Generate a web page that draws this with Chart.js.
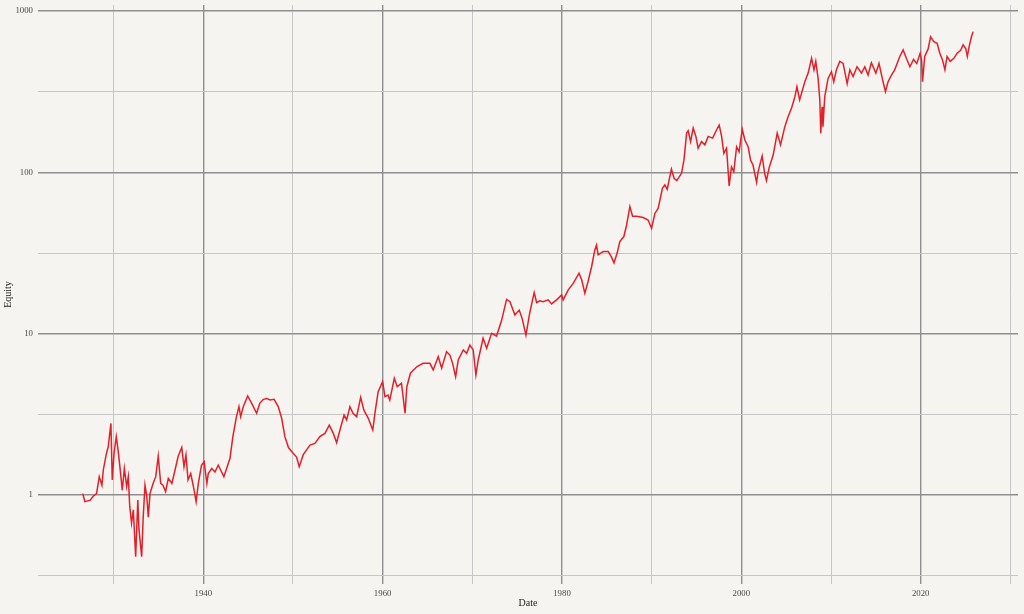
<!DOCTYPE html>
<html>
<head>
<meta charset="utf-8">
<script src="https://cdn.jsdelivr.net/npm/chart.js@4.4.1/dist/chart.umd.min.js"></script>
<style>
  html, body { margin: 0; padding: 0; background: #f6f4f0; }
  canvas { display: block; }
</style>
</head>
<body>
<canvas id="myChart" width="1024" height="614"></canvas>
<script>
'use strict'
// equity curve (decimal year / value)
let years = [
  1926.56, 1926.8, 1927.4, 1927.7, 1928.1, 1928.4, 1928.7, 1928.85, 1929.2, 1929.4,
  1929.7, 1929.85, 1930.05, 1930.3, 1930.5, 1930.7, 1930.97, 1931.2, 1931.46, 1931.64,
  1931.8, 1932.0, 1932.2, 1932.46, 1932.7, 1932.83, 1933.13, 1933.3, 1933.5, 1933.7,
  1933.87, 1934.06, 1934.4, 1934.7, 1934.98, 1935.25, 1935.5, 1935.8, 1936.1, 1936.5,
  1936.85, 1937.2, 1937.6, 1937.85, 1938.07, 1938.3, 1938.6, 1938.9, 1939.2, 1939.45,
  1939.8, 1940.1, 1940.4, 1940.56, 1940.94, 1941.3, 1941.67, 1942.05, 1942.3, 1942.6,
  1942.98, 1943.3, 1943.7, 1943.98, 1944.17, 1944.46, 1944.95, 1945.4, 1945.95, 1946.3,
  1946.7, 1947.07, 1947.44, 1947.9, 1948.36, 1948.74, 1949.1, 1949.5, 1949.9, 1950.4,
  1950.7, 1951.15, 1951.5, 1951.9, 1952.45, 1953.0, 1953.57, 1954.05, 1954.5, 1954.87,
  1955.24, 1955.7, 1955.99, 1956.35, 1956.7, 1957.1, 1957.55, 1957.9, 1958.4, 1958.9,
  1959.14, 1959.5, 1960.0, 1960.26, 1960.6, 1960.8, 1961.3, 1961.63, 1962.1, 1962.5,
  1962.7, 1963.1, 1963.8, 1964.5, 1965.27, 1965.64, 1966.2, 1966.58, 1967.13, 1967.5,
  1967.8, 1968.14, 1968.43, 1968.99, 1969.37, 1969.73, 1970.1, 1970.4, 1970.66, 1971.2,
  1971.6, 1972.15, 1972.7, 1973.27, 1973.82, 1974.2, 1974.75, 1975.23, 1975.56, 1975.98,
  1976.4, 1976.9, 1977.17, 1977.54, 1977.9, 1978.46, 1978.84, 1979.4, 1979.96, 1980.13,
  1980.7, 1981.25, 1981.9, 1982.2, 1982.55, 1982.9, 1983.3, 1983.66, 1983.85, 1984.03,
  1984.6, 1985.15, 1985.5, 1985.8, 1986.15, 1986.45, 1986.9, 1987.2, 1987.57, 1987.87,
  1988.3, 1989.05, 1989.6, 1989.99, 1990.36, 1990.72, 1991.2, 1991.47, 1991.73, 1991.95,
  1992.2, 1992.5, 1992.8, 1993.33, 1993.6, 1993.9, 1994.07, 1994.34, 1994.63, 1994.93,
  1995.18, 1995.56, 1995.93, 1996.3, 1996.8, 1997.23, 1997.53, 1997.8, 1998.05, 1998.35,
  1998.64, 1998.9, 1999.16, 1999.47, 1999.75, 2000.1, 2000.4, 2000.76, 2001.03, 2001.3,
  2001.7, 2001.87, 2002.32, 2002.6, 2002.8, 2003.1, 2003.55, 2004.0, 2004.37, 2004.85,
  2005.2, 2005.6, 2005.97, 2006.2, 2006.5, 2007.08, 2007.45, 2007.83, 2008.1, 2008.3,
  2008.56, 2008.75, 2008.86, 2009.0, 2009.1, 2009.3, 2009.67, 2010.05, 2010.3, 2010.6,
  2010.98, 2011.35, 2011.8, 2012.1, 2012.46, 2012.9, 2013.4, 2013.77, 2014.13, 2014.5,
  2015.0, 2015.35, 2015.8, 2016.07, 2016.36, 2016.74, 2017.1, 2017.67, 2018.04, 2018.4,
  2018.8, 2019.2, 2019.56, 2019.94, 2020.1, 2020.2, 2020.45, 2020.83, 2021.1, 2021.46,
  2021.83, 2022.13, 2022.43, 2022.7, 2022.94, 2023.3, 2023.7, 2024.06, 2024.44, 2024.73,
  2025.03, 2025.2, 2025.4, 2025.66, 2025.84
];
let equity = [
  1.02, 0.91, 0.93, 0.98, 1.02, 1.30, 1.15, 1.43, 1.81, 1.99,
  2.78, 1.24, 1.81, 2.30, 1.90, 1.50, 1.07, 1.46, 1.13, 1.30,
  0.85, 0.67, 0.81, 0.415, 0.93, 0.61, 0.415, 0.73, 1.15, 0.98,
  0.73, 1.02, 1.18, 1.30, 1.74, 1.18, 1.15, 1.05, 1.27, 1.18,
  1.43, 1.74, 1.97, 1.50, 1.77, 1.24, 1.36, 1.13, 0.91, 1.18,
  1.53, 1.61, 1.18, 1.36, 1.46, 1.39, 1.53, 1.39, 1.30, 1.46,
  1.69, 2.30, 3.06, 3.53, 3.06, 3.53, 4.11, 3.70, 3.21, 3.70,
  3.92, 3.97, 3.88, 3.92, 3.53, 2.99, 2.30, 1.97, 1.85, 1.72,
  1.50, 1.78, 1.90, 2.04, 2.09, 2.30, 2.41, 2.71, 2.41, 2.11,
  2.53, 3.13, 2.92, 3.53, 3.21, 3.06, 4.03, 3.37, 2.99, 2.53,
  3.21, 4.37, 5.04, 4.07, 4.16, 3.88, 5.29, 4.69, 4.93, 3.21,
  4.69, 5.69, 6.24, 6.55, 6.55, 5.96, 7.20, 6.11, 7.74, 7.37,
  6.55, 5.41, 6.87, 7.93, 7.55, 8.50, 7.93, 5.54, 6.87, 9.37,
  8.12, 10.06, 9.67, 12.1, 16.3, 15.8, 13.05, 14.0, 12.4, 9.8,
  13.4, 18.0, 15.6, 16.0, 15.8, 16.2, 15.3, 16.2, 17.4, 16.2,
  18.7, 20.5, 23.7, 21.5, 17.8, 21.0, 26.0, 33.0, 35.4, 30.8,
  32.3, 32.3, 30.0, 27.5, 31.6, 37.2, 40.0, 47.0, 61.3, 53.5,
  53.5, 52.5, 50.6, 45.0, 55.6, 59.8, 79.6, 83.6, 78.5, 89.7,
  104.6, 91.9, 88.8, 98.6, 119, 175, 181, 155, 188, 167,
  141, 155, 148, 167, 163, 183, 196, 167, 131, 141,
  82.3, 108, 101, 144, 134, 185, 158, 144, 119, 111,
  86.7, 101, 126, 98.6, 88.8, 107, 128, 175, 148, 192,
  220, 250, 294, 339, 281, 364, 412, 509, 432, 487,
  382, 281, 175, 255, 192, 294, 382, 420, 364, 432,
  487, 473, 355, 432, 392, 451, 412, 451, 401, 478,
  412, 473, 364, 316, 364, 401, 432, 522, 574, 509,
  451, 501, 473, 547, 497, 364, 522, 582, 692, 645,
  631, 547, 497, 432, 522, 487, 509, 547, 568, 617,
  582, 522, 601, 692, 745
];

let xGridYears = [1930, 1940, 1950, 1960, 1970, 1980, 1990, 2000, 2010, 2020, 2030];
let xLabelYears = [1940, 1960, 1980, 2000, 2020];
let yGridValues = [0.31623, 1, 3.1623, 10, 31.623, 100, 316.23, 1000];
let yLabelValues = [1, 10, 100, 1000];

let majorGrid = '#8f8f8f';
let minorGrid = '#c6c6c6';

let points = [];
for (let i = 0; i < years.length; i++) {
  points.push({ x: years[i], y: equity[i] });
}

function isXLabel(v) {
  return xLabelYears.includes(Math.round(v));
}
function isYLabel(v) {
  return yLabelValues.some(function (l) { return Math.abs(v - l) / l < 0.001; });
}

let bgPlugin = {
  id: 'bg',
  beforeDraw: function (chart) {
    let c = chart.ctx;
    c.save();
    c.fillStyle = '#f6f4f0';
    c.fillRect(0, 0, chart.width, chart.height);
    c.restore();
  }
};

let ctx = document.getElementById('myChart').getContext('2d');
let myChart = new Chart(ctx, {
  type: 'line',
  data: {
    datasets: [{
      label: 'Equity',
      data: points,
      borderColor: '#e3202a',
      borderWidth: 1.5,
      pointRadius: 0,
      tension: 0,
      fill: false
    }]
  },
  options: {
    responsive: false,
    animation: false,
    devicePixelRatio: 1,
    layout: { padding: { top: 5, right: 6, left: 0, bottom: 0 } },
    plugins: { legend: { display: false }, tooltip: { enabled: false } },
    scales: {
      x: {
        type: 'linear',
        min: 1921.57,
        max: 2030.85,
        afterBuildTicks: function (scale) {
          scale.ticks = xGridYears.map(function (v) { return { value: v }; });
        },
        afterFit: function (scale) {
          scale.height = 30;
          scale.paddingLeft = 0;
          scale.paddingRight = 0;
        },
        border: { display: false },
        grid: {
          drawTicks: false,
          color: function (c) { return isXLabel(c.tick.value) ? majorGrid : minorGrid; },
          lineWidth: function (c) { return isXLabel(c.tick.value) ? 1.4 : 1; }
        },
        ticks: {
          padding: 4,
          maxRotation: 0,
          autoSkip: false,
          color: '#4a4a4a',
          font: { family: 'Liberation Serif', size: 8.8 },
          callback: function (v) { return isXLabel(v) ? String(Math.round(v)) : ''; }
        },
        title: {
          display: true,
          text: 'Date',
          color: '#222',
          font: { family: 'Liberation Serif', size: 10 },
          padding: { top: 0, bottom: 5 }
        }
      },
      y: {
        type: 'logarithmic',
        min: 0.281,
        max: 1089,
        afterBuildTicks: function (scale) {
          scale.ticks = yGridValues.map(function (v) { return { value: v }; });
        },
        afterFit: function (scale) {
          scale.width = 38;
          scale.paddingTop = 0;
          scale.paddingBottom = 0;
        },
        border: { display: false },
        grid: {
          drawTicks: false,
          color: function (c) { return isYLabel(c.tick.value) ? majorGrid : minorGrid; },
          lineWidth: function (c) { return isYLabel(c.tick.value) ? 1.4 : 1; }
        },
        ticks: {
          padding: 5,
          autoSkip: false,
          color: '#4a4a4a',
          font: { family: 'Liberation Serif', size: 8.8 },
          callback: function (v) { return isYLabel(v) ? String(Math.round(v)) : ''; }
        },
        title: {
          display: true,
          text: 'Equity',
          color: '#222',
          font: { family: 'Liberation Serif', size: 10 },
          padding: { top: 2, bottom: 0 }
        }
      }
    }
  },
  plugins: [bgPlugin]
});
</script>
</body>
</html>
